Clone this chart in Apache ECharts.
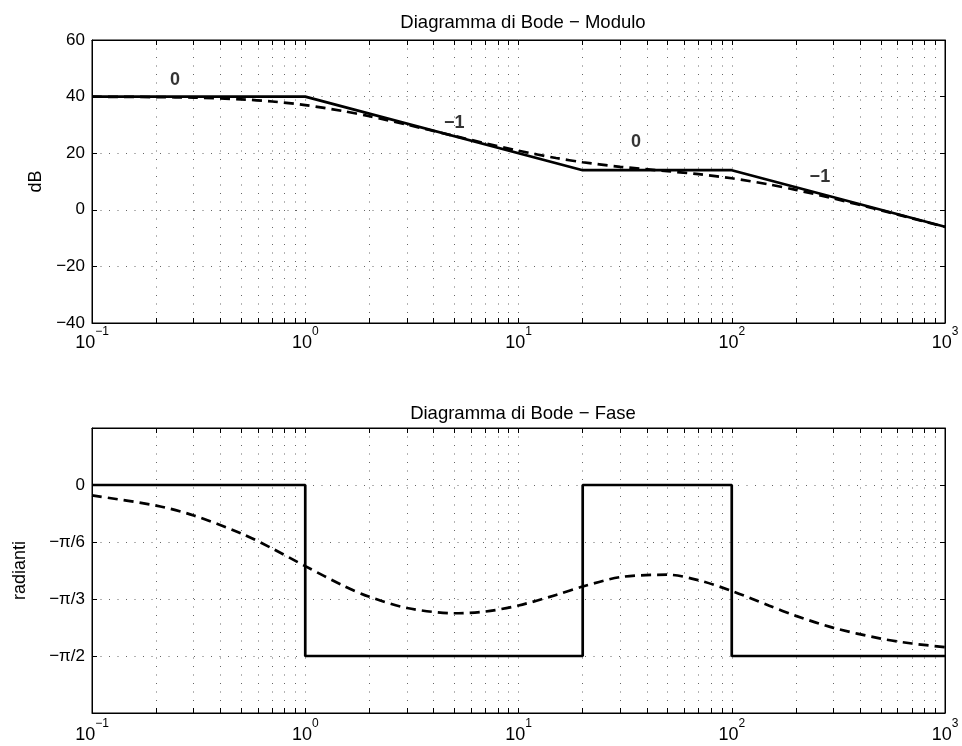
<!DOCTYPE html>
<html>
<head>
<meta charset="utf-8">
<script src="https://cdn.jsdelivr.net/npm/echarts@6/dist/echarts.min.js"></script>
<style>
  html, body { margin: 0; padding: 0; background: #fff; }
  #chart { width: 962px; height: 746px; }
</style>
</head>
<body>
<div id="chart"></div>
<script>
// frequenze (rad/s)
var freq = [0.1, 0.2, 0.3, 0.5, 0.7, 1, 1.5, 2, 3, 5, 7, 10, 15, 20, 30, 50, 70, 100, 150, 200, 300, 500, 700, 1000];
// modulo reale (dB), tratteggiato
var magReal = [39.96, 39.83, 39.63, 39.03, 38.27, 37.00, 34.90, 33.05, 30.09, 26.10, 23.49, 20.88, 18.30, 16.81, 15.20, 13.65, 12.59, 11.14, 8.94, 7.03, 4.00, -0.16, -3.01, -6.06];
// fase reale (rad), tratteggiata
var phaseReal = [-0.096, -0.189, -0.280, -0.444, -0.583, -0.745, -0.923, -1.027, -1.130, -1.178, -1.162, -1.107, -1.010, -0.933, -0.846, -0.824, -0.875, -0.973, -1.109, -1.202, -1.312, -1.411, -1.456, -1.490];
// asintoti
var magAsymFreq = [0.1, 1, 20, 100, 1000];
var magAsym = [40, 40, 14, 14, -6];
var phaseAsymFreq = [0.1, 1, 1, 20, 20, 100, 100, 1000];
var phaseAsym = [0, 0, -1.5708, -1.5708, 0, 0, -1.5708, -1.5708];
// etichette delle pendenze
var slopeFreq = [0.245, 5.0, 35.6, 259];
var slopeDb = [45.9, 30.7, 24.0, 11.6];
var slopeText = ['0', '\u22121', '0', '\u22121'];
// tacche
var decades = [0.1, 1, 10, 100, 1000];
var minorTicks = [];
decades.slice(0, 4).forEach(function (d) {
    for (var k = 1; k <= 9; k++) minorTicks.push(+(d * k).toPrecision(3));
});
minorTicks.push(1000);
var phaseTickLabels = {'0': '0', '-1': '\u2212\u03c0/6', '-2': '\u2212\u03c0/3', '-3': '\u2212\u03c0/2'};

var FONT = 'Liberation Sans, Arial, sans-serif';

function pairs(xs, ys) {
    return xs.map(function (x, i) { return [x, ys[i]]; });
}

function expLabel(v) {
    var e = Math.round(Math.log10(v));
    return '{b|10}{e|' + String(e).replace('-', '\u2212') + '}';
}

function xAxisDef(grid, top, margin) {
    return {
        type: 'log',
        gridIndex: grid,
        position: top ? 'top' : 'bottom',
        min: 0.1,
        max: 1000,
        logBase: 10,
        axisLine: { show: true, onZero: false, lineStyle: { color: '#000', width: 1 } },
        axisTick: { show: true, inside: true, length: 5, customValues: minorTicks, lineStyle: { color: '#000' } },
        axisLabel: top ? { show: false } : {
            show: true,
            customValues: decades,
            margin: margin,
            formatter: expLabel,
            rich: {
                b: { fontFamily: FONT, fontSize: 18, color: '#000', verticalAlign: 'bottom', lineHeight: 26 },
                e: { fontFamily: FONT, fontSize: 12, color: '#000', verticalAlign: 'top', lineHeight: 26 }
            }
        },
        splitLine: top ? { show: false } : { show: true, lineStyle: { color: '#666', type: [1, 7.5], width: 1 } }
    };
}

function yAxisDef(grid, right, cfg) {
    var a = {
        type: 'value',
        gridIndex: grid,
        position: right ? 'right' : 'left',
        min: cfg.min,
        max: cfg.max,
        interval: cfg.interval,
        axisLine: { show: true, onZero: false, lineStyle: { color: '#000', width: 1 } },
        axisTick: { show: true, inside: true, length: 5, lineStyle: { color: '#000' } },
        axisLabel: right ? { show: false } : {
            show: true, margin: 7, color: '#000', fontFamily: FONT, fontSize: 17,
            formatter: cfg.formatter
        },
        splitLine: right ? { show: false } : { show: true, lineStyle: { color: '#666', type: [1, 7.5], width: 1 } }
    };
    if (!right) {
        a.name = cfg.name;
        a.nameLocation = 'middle';
        a.nameGap = cfg.nameGap;
        a.nameTextStyle = { fontFamily: FONT, fontSize: 18, color: '#000' };
    }
    return a;
}

var magY = { min: -40, max: 60, interval: 20, name: 'dB', nameGap: 44,
    formatter: function (v) { return String(v).replace('-', '\u2212'); } };
var phaseY = { min: -4 * Math.PI / 6, max: Math.PI / 6, interval: Math.PI / 6, name: 'radianti', nameGap: 63,
    formatter: function (v) {
        var k = String(Math.round(v / (Math.PI / 6)));
        return phaseTickLabels[k] || '';
    } };

var chart = echarts.init(document.getElementById('chart'));
var option = {
    backgroundColor: '#fff',
    animation: false,
    title: [
        { text: 'Diagramma di Bode \u2212 Modulo', left: 518, top: 8, textAlign: 'center',
          textStyle: { fontFamily: FONT, fontSize: 18.5, fontWeight: 'normal', color: '#000' } },
        { text: 'Diagramma di Bode \u2212 Fase', left: 518, top: 399, textAlign: 'center',
          textStyle: { fontFamily: FONT, fontSize: 18.5, fontWeight: 'normal', color: '#000' } }
    ],
    grid: [
        { left: 92, top: 40, width: 853, height: 283, show: true, borderColor: '#000', borderWidth: 1 },
        { left: 92, top: 428, width: 853, height: 285, show: true, borderColor: '#000', borderWidth: 1 }
    ],
    xAxis: [xAxisDef(0, false, 3), xAxisDef(0, true, 3), xAxisDef(1, false, 5), xAxisDef(1, true, 5)],
    yAxis: [yAxisDef(0, false, magY), yAxisDef(0, true, magY), yAxisDef(1, false, phaseY), yAxisDef(1, true, phaseY)],
    series: [
        {
            type: 'line', xAxisIndex: 0, yAxisIndex: 0, showSymbol: false, smooth: 0.3,
            lineStyle: { color: '#000', width: 2.7, type: [10, 6] },
            data: pairs(freq, magReal)
        },
        {
            type: 'line', xAxisIndex: 0, yAxisIndex: 0, showSymbol: false,
            lineStyle: { color: '#000', width: 2.7 },
            data: pairs(magAsymFreq, magAsym)
        },
        {
            type: 'scatter', xAxisIndex: 0, yAxisIndex: 0, symbolSize: 0,
            label: { show: true, position: 'inside', fontFamily: FONT, fontSize: 18, fontWeight: 'bold', color: '#000',
                formatter: function (p) { return slopeText[p.dataIndex]; } },
            data: pairs(slopeFreq, slopeDb)
        },
        {
            type: 'line', xAxisIndex: 2, yAxisIndex: 2, showSymbol: false, smooth: 0.3,
            lineStyle: { color: '#000', width: 2.7, type: [10, 6] },
            data: pairs(freq, phaseReal)
        },
        {
            type: 'line', xAxisIndex: 2, yAxisIndex: 2, showSymbol: false,
            lineStyle: { color: '#000', width: 2.7 },
            data: pairs(phaseAsymFreq, phaseAsym)
        }
    ]
};
chart.setOption(option);
</script>
</body>
</html>
